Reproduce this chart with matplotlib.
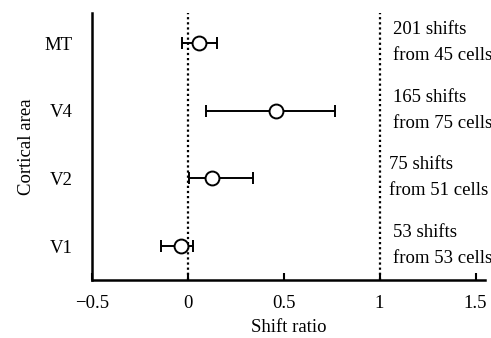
import matplotlib.pyplot as plt

plt.rcParams['font.family'] = ['Liberation Serif', 'DejaVu Serif']

# Shift ratio per cortical area (mean with lower/upper bounds)
areas = ['V1', 'V2', 'V4', 'MT']
shift_mean = [-0.036, 0.125, 0.46, 0.057]
shift_low = [-0.14, 0.005, 0.094, -0.03]
shift_high = [0.025, 0.34, 0.77, 0.15]
counts_shifts = ['53 shifts', '75 shifts', '165 shifts', '201 shifts']
counts_cells = ['from 53 cells', 'from 51 cells', 'from 75 cells', 'from 45 cells']
text_x = [1.07, 1.05, 1.07, 1.07]

fig = plt.figure(figsize=(4.91, 3.38), dpi=100)
ax = fig.add_axes([0.187, 0.172, 0.801, 0.79])

ypos = list(range(len(areas)))
xerr = [[m - lo for m, lo in zip(shift_mean, shift_low)],
        [hi - m for m, hi in zip(shift_mean, shift_high)]]

dots = (0, (1, 1.3))
ax.axvline(0, color='black', linestyle=dots, linewidth=1.6, zorder=1)
ax.axvline(1, color='black', linestyle=dots, linewidth=1.6, zorder=1)

ax.errorbar(shift_mean, ypos, xerr=xerr, fmt='o', color='black', ecolor='black',
            elinewidth=1.4, capsize=4.3, capthick=1.4, markersize=10,
            markerfacecolor='white', markeredgecolor='black', markeredgewidth=1.4,
            zorder=3)

for y, s, c, tx in zip(ypos, counts_shifts, counts_cells, text_x):
    ax.text(tx, y + 0.2, s, fontsize=13.5, va='center', ha='left')
    ax.text(tx, y - 0.18, c, fontsize=13.5, va='center', ha='left')

ax.set_xlim(-0.5, 1.55)
ax.set_ylim(-0.5, 3.45)
ax.set_xticks([-0.5, 0, 0.5, 1, 1.5])
ax.set_xticklabels(['\u22120.5', '0', '0.5', '1', '1.5'])
ax.set_yticks(ypos)
ax.set_yticklabels(areas)

ax.tick_params(axis='x', direction='in', length=5, width=1.5, labelsize=13.5, pad=11)
ax.tick_params(axis='y', length=0, labelsize=13.5, pad=14)

for side in ['top', 'right']:
    ax.spines[side].set_visible(False)
for side in ['left', 'bottom']:
    ax.spines[side].set_linewidth(1.8)

ax.set_xlabel('Shift ratio', fontsize=13.5, labelpad=5)
ax.set_ylabel('Cortical area', fontsize=13.5, labelpad=7)

fig.savefig('out.png', dpi=100)
